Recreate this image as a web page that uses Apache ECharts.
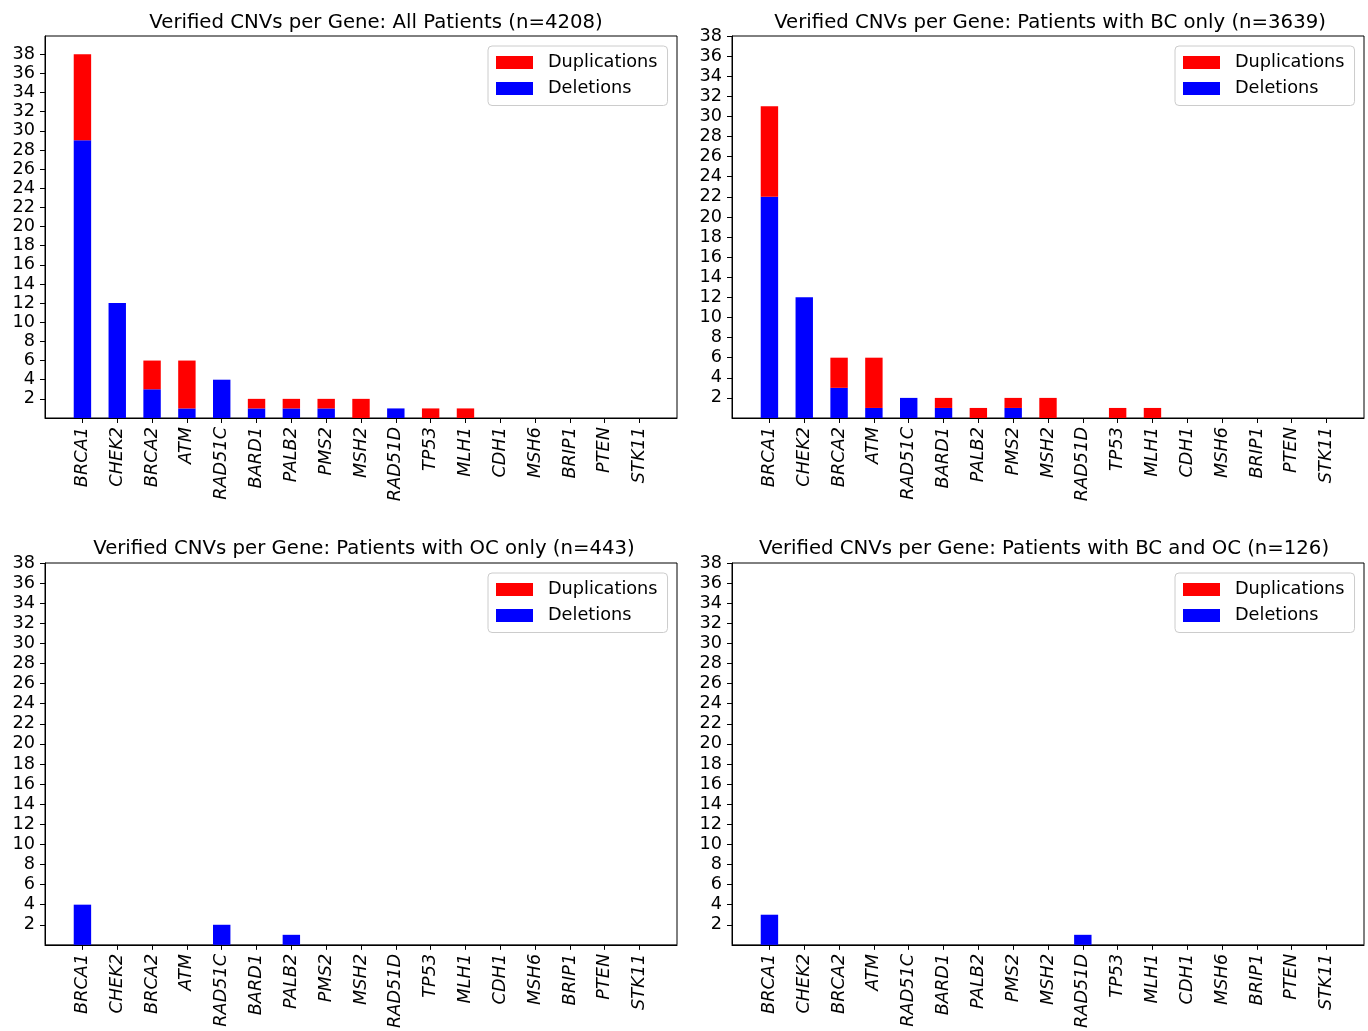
<!DOCTYPE html>
<html>
<head>
<meta charset="utf-8">
<script src="https://cdn.jsdelivr.net/npm/echarts@6/dist/echarts.min.js"></script>
<style>
  html, body { margin: 0; padding: 0; background: #fff; }
  #chart { width: 1368px; height: 1031px; }
</style>
</head>
<body>
<div id="chart"></div>
<script>
// Genes shown on every panel, in plotting order
const genes = ['BRCA1', 'CHEK2', 'BRCA2', 'ATM', 'RAD51C', 'BARD1', 'PALB2', 'PMS2',
  'MSH2', 'RAD51D', 'TP53', 'MLH1', 'CDH1', 'MSH6', 'BRIP1', 'PTEN', 'STK11'];

// Verified CNV counts per gene
const delAll  = [29, 12, 3, 1, 4, 1, 1, 1, 0, 1, 0, 0, 0, 0, 0, 0, 0];
const dupAll  = [9, 0, 3, 5, 0, 1, 1, 1, 2, 0, 1, 1, 0, 0, 0, 0, 0];
const delBC   = [22, 12, 3, 1, 2, 1, 0, 1, 0, 0, 0, 0, 0, 0, 0, 0, 0];
const dupBC   = [9, 0, 3, 5, 0, 1, 1, 1, 2, 0, 1, 1, 0, 0, 0, 0, 0];
const delOC   = [4, 0, 0, 0, 2, 0, 1, 0, 0, 0, 0, 0, 0, 0, 0, 0, 0];
const dupOC   = [0, 0, 0, 0, 0, 0, 0, 0, 0, 0, 0, 0, 0, 0, 0, 0, 0];
const delBoth = [3, 0, 0, 0, 0, 0, 0, 0, 0, 1, 0, 0, 0, 0, 0, 0, 0];
const dupBoth = [0, 0, 0, 0, 0, 0, 0, 0, 0, 0, 0, 0, 0, 0, 0, 0, 0];

// Y tick labels
const yTicks = [2, 4, 6, 8, 10, 12, 14, 16, 18, 20, 22, 24, 26, 28, 30, 32, 34, 36, 38];

const titles = [
  'Verified CNVs per Gene: All Patients (n=4208)',
  'Verified CNVs per Gene: Patients with BC only (n=3639)',
  'Verified CNVs per Gene: Patients with OC only (n=443)',
  'Verified CNVs per Gene: Patients with BC and OC (n=126)'
];
const dels = [delAll, delBC, delOC, delBoth];
const dups = [dupAll, dupBC, dupOC, dupBoth];
const yMax = [39.9, 38, 38, 38];

// Panel frames (2 x 2) and the x at which each title is centred
const frames = [
  { left: 45, top: 36, width: 632, height: 382, titleX: 376 },
  { left: 732, top: 36, width: 632, height: 382, titleX: 1050 },
  { left: 45, top: 563, width: 632, height: 382, titleX: 364 },
  { left: 732, top: 563, width: 632, height: 382, titleX: 1044 }
];

const FONT = 'DejaVu Sans';
const TICK_SIZE = 17.7;
const xIdx = genes.map((g, i) => i);

const option = {
  animation: false,
  backgroundColor: '#ffffff',
  textStyle: { fontFamily: FONT, color: '#000' },
  title: [], grid: [], xAxis: [], yAxis: [], legend: [], series: []
};

frames.forEach((f, k) => {
  option.grid.push({
    left: f.left, top: f.top, width: f.width, height: f.height,
    show: true, borderColor: '#000', borderWidth: 1, backgroundColor: 'transparent',
    containLabel: false
  });
  option.title.push({
    text: titles[k],
    left: f.titleX,
    top: f.top - (k < 2 ? 23 : 24),
    padding: 0,
    textAlign: 'center',
    textStyle: { fontFamily: FONT, fontSize: 19.7, fontWeight: 'normal', color: '#000' }
  });
  option.xAxis.push({
    type: 'value', gridIndex: k, min: -1.075, max: 17.075,
    splitLine: { show: false },
    axisLine: { show: true, onZero: false, lineStyle: { color: '#000', width: 1 } },
    axisTick: { show: true, customValues: xIdx, length: 5, lineStyle: { color: '#000' } },
    axisLabel: {
      customValues: xIdx,
      formatter: v => genes[Math.round(v)] || '',
      rotate: 90, margin: 9, fontFamily: FONT, fontStyle: 'italic', fontSize: TICK_SIZE, color: '#000'
    }
  });
  option.yAxis.push({
    type: 'value', gridIndex: k, min: 0, max: yMax[k],
    splitLine: { show: false },
    axisLine: { show: true, onZero: false, lineStyle: { color: '#000', width: 1 } },
    axisTick: { show: true, customValues: yTicks, length: 5, lineStyle: { color: '#000' } },
    axisLabel: { customValues: yTicks, margin: 10, fontFamily: FONT, fontSize: TICK_SIZE, color: '#000' }
  });
  option.legend.push({
    orient: 'vertical',
    left: f.left + f.width - 189, top: f.top + 10,
    data: ['Duplications', 'Deletions'],
    icon: 'rect', itemWidth: 37, itemHeight: 13, itemGap: 6,
    selectedMode: false,
    padding: [6.5, 10, 7, 8],
    backgroundColor: 'rgba(255,255,255,0.8)',
    borderColor: '#cccccc', borderWidth: 1, borderRadius: 4,
    textStyle: { fontFamily: FONT, fontSize: TICK_SIZE, color: '#000', padding: [0, 0, 0, 10], lineHeight: 20 }
  });
  // Count is the first column so the stack accumulates along y; gene index drives x
  option.series.push({
    name: 'Deletions', type: 'bar', xAxisIndex: k, yAxisIndex: k,
    stack: 'cnv' + k, barWidth: '50%',
    encode: { x: 1, y: 0 },
    itemStyle: { color: '#0000ff' },
    data: dels[k].map((v, i) => [v, i])
  });
  option.series.push({
    name: 'Duplications', type: 'bar', xAxisIndex: k, yAxisIndex: k,
    stack: 'cnv' + k, barWidth: '50%',
    encode: { x: 1, y: 0 },
    itemStyle: { color: '#ff0000' },
    data: dups[k].map((v, i) => [v, i])
  });
});

const chart = echarts.init(document.getElementById('chart'), null, { renderer: 'canvas' });
chart.setOption(option);
</script>
</body>
</html>
